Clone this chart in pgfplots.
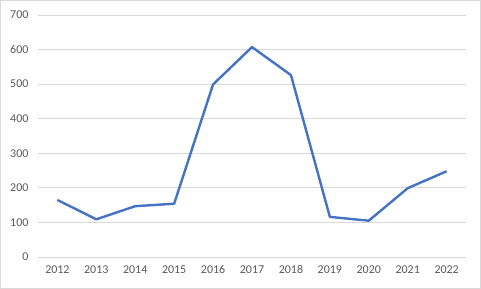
\documentclass[border=0pt]{standalone}
\usepackage{pgfplots}
\pgfplotsset{compat=1.18}
\usepackage{fontspec}
\setmainfont{Carlito}
\definecolor{linecol}{RGB}{68,114,196}
\definecolor{gridcol}{RGB}{217,217,217}
\definecolor{txtcol}{RGB}{89,89,89}
\begin{document}
\begin{tikzpicture}[x=1bp,y=1bp]
\draw[gridcol,line width=0.8bp] (0.5,0.5) rectangle (480.5,288.5);
\begin{axis}[
  at={(38bp,32bp)}, anchor=south west,
  scale only axis, width=428bp, height=242bp,
  xmin=-0.5, xmax=10.5, ymin=0, ymax=700,
  xtick={0,...,10},
  xticklabels={2012,2013,2014,2015,2016,2017,2018,2019,2020,2021,2022},
  ytick={0,100,...,700},
  ymajorgrids, grid style={gridcol, line width=0.8bp},
  axis line style={draw=none},
  major tick length=0pt,
  tick label style={font=\fontsize{12}{14}\selectfont, text=txtcol},
  /pgf/number format/assume math mode=true,
  xticklabel style={yshift=-5bp},
  yticklabel style={xshift=-6bp},
  clip=false,
]
\addplot[linecol, line width=2.4bp, line join=round] coordinates {
(0,165) (1,109) (2,147) (3,154) (4,499) (5,607) (6,526) (7,116) (8,105) (9,199) (10,248)
};
\end{axis}
\end{tikzpicture}
\end{document}
